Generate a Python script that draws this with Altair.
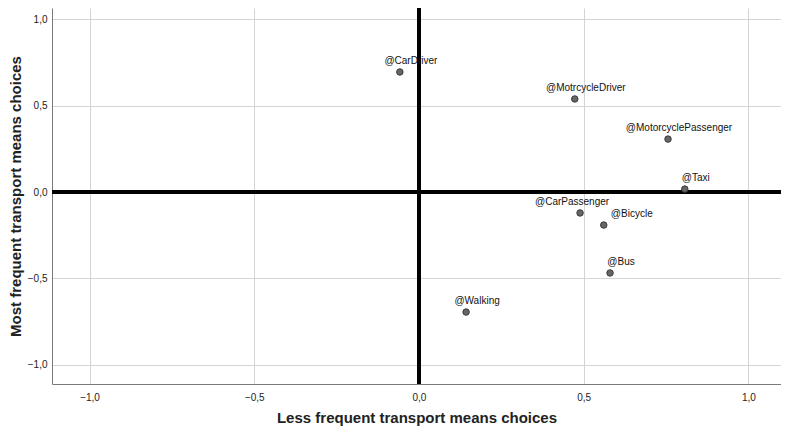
import altair as alt
import pandas as pd

names = ["@CarDriver", "@MotrcycleDriver", "@MotorcyclePassenger", "@Taxi",
         "@CarPassenger", "@Bicycle", "@Bus", "@Walking"]
less_freq = [-0.058, 0.473, 0.756, 0.807, 0.489, 0.561, 0.580, 0.143]
most_freq = [0.694, 0.538, 0.306, 0.017, -0.121, -0.191, -0.468, -0.694]
ticks = [-1.0, -0.5, 0.0, 0.5, 1.0]

df = pd.DataFrame({"name": names, "x": less_freq, "y": most_freq})

FONT = "Arial, Liberation Sans, sans-serif"
label_expr = "replace(format(datum.value, '.1f'), '.', ',')"

xscale = alt.Scale(domain=[-1.114, 1.099], nice=False, zero=False)
yscale = alt.Scale(domain=[-1.11, 1.064], nice=False, zero=False)

xaxis = alt.Axis(values=ticks, labelExpr=label_expr, title="Less frequent transport means choices",
                 grid=True, ticks=False, labelPadding=8, titlePadding=8)
yaxis = alt.Axis(values=ticks, labelExpr=label_expr, title="Most frequent  transport means choices",
                 grid=True, ticks=False, labelPadding=5, titlePadding=4)

base = alt.Chart(df)

hline = alt.Chart(df).mark_rule(color="black", strokeWidth=3).encode(y=alt.datum(0, scale=yscale))
vline = alt.Chart(df).mark_rule(color="black", strokeWidth=3).encode(x=alt.datum(0, scale=xscale))

points = base.mark_point(filled=True, size=42, fill="#666666", stroke="#3a3a3a",
                         strokeWidth=1, opacity=1, shape="circle").encode(
    x=alt.X("x:Q", scale=xscale, axis=xaxis),
    y=alt.Y("y:Q", scale=yscale, axis=yaxis),
)

def labels(filter_expr, dx):
    return base.transform_filter(filter_expr).mark_text(
        font=FONT, fontSize=10, color="#111111", baseline="middle", align="center",
        dx=dx, dy=-11).encode(
        x=alt.X("x:Q", scale=xscale), y=alt.Y("y:Q", scale=yscale), text="name:N")

lab_main = labels("datum.name != '@CarPassenger' && datum.name != '@Bicycle'", 11)
lab_cp = labels("datum.name == '@CarPassenger'", -8)
lab_bi = labels("datum.name == '@Bicycle'", 28)

chart = alt.layer(hline, vline, points, lab_main, lab_cp, lab_bi).properties(
    width=729, height=376,
    autosize=alt.AutoSizeParams(type="none"),
    padding={"left": 44, "top": 0, "right": 0, "bottom": 42},
).configure_view(stroke=None).configure_axis(
    gridColor="#d4d4d4", gridWidth=1, domainColor="#7a7a7a", domainWidth=1,
    labelFont=FONT, labelFontSize=10, labelColor="#222222",
    titleFont=FONT, titleFontSize=15, titleFontWeight="bold", titleColor="#222222",
)

chart.save("out.html", embed_options={"renderer": "svg", "actions": False})
